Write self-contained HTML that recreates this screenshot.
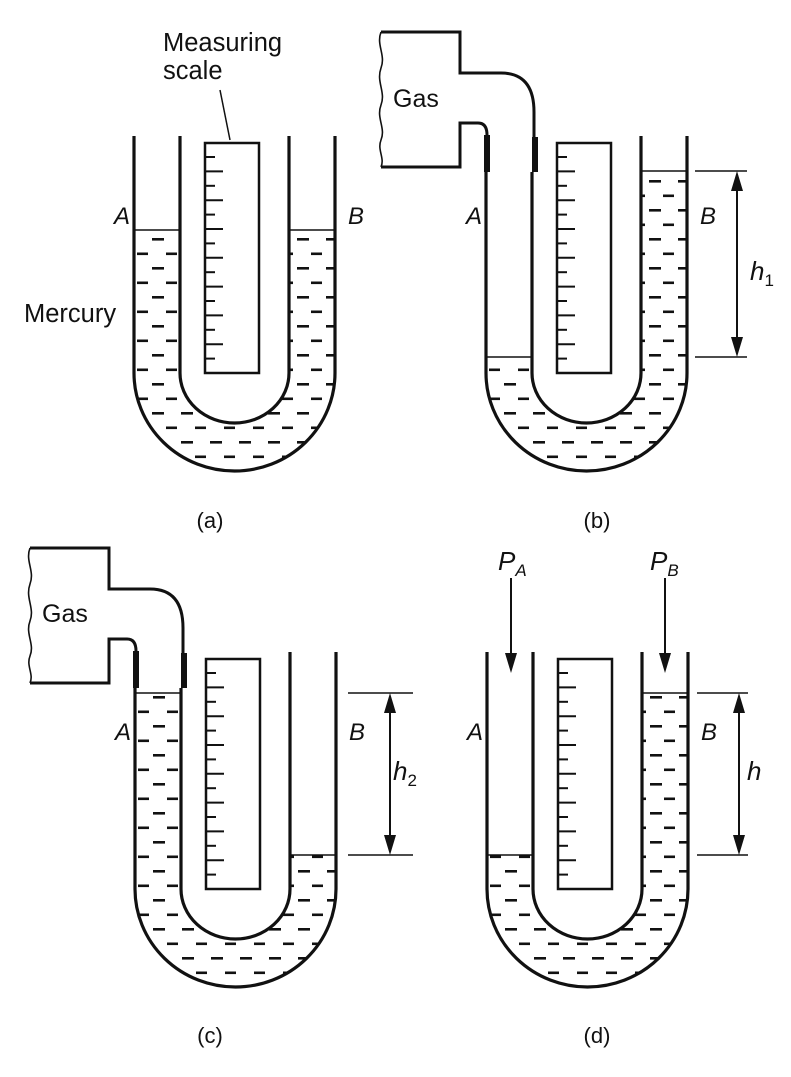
<!DOCTYPE html>
<html><head><meta charset="utf-8"><style>
html,body{margin:0;padding:0;background:#fff}
svg{display:block}
text{font-family:"Liberation Sans",sans-serif;fill:#111}
</style></head><body>
<svg id="fig" width="791" height="1077" viewBox="0 0 791 1077" xmlns="http://www.w3.org/2000/svg">
<defs>
<pattern id="merc" patternUnits="userSpaceOnUse" width="29" height="29" x="137" y="238">
<rect x="15" y="0" width="12" height="2.6" fill="#111"/>
<rect x="0" y="14.5" width="11" height="2.6" fill="#111"/>
</pattern>
</defs>
<g id="root"></g>
<text x="163" y="51" font-size="25.5">Measuring</text>
<text x="163" y="79" font-size="25.5">scale</text>
<line x1="220" y1="90" x2="230" y2="140" stroke="#111" stroke-width="1.5"/>
<text x="24" y="322" font-size="25.5">Mercury</text>
<text x="210" y="528" font-size="22" text-anchor="middle">(a)</text>
<text x="597" y="528" font-size="22" text-anchor="middle">(b)</text>
<text x="210" y="1043" font-size="22" text-anchor="middle">(c)</text>
<text x="597" y="1043" font-size="22" text-anchor="middle">(d)</text>
<text x="393" y="107" font-size="25">Gas</text>
<text x="42" y="622" font-size="25">Gas</text>
<text x="750" y="280" font-size="26" font-style="italic">h<tspan font-style="normal" font-size="17" dy="6">1</tspan></text>
<text x="393" y="780" font-size="26" font-style="italic">h<tspan font-style="normal" font-size="17" dy="6">2</tspan></text>
<text x="747" y="780" font-size="26" font-style="italic">h</text>
<text x="498" y="570" font-size="26" font-style="italic">P<tspan font-size="17" dy="6">A</tspan></text>
<text x="650" y="570" font-size="26" font-style="italic">P<tspan font-size="17" dy="6">B</tspan></text>
</svg>
<script>
// panel data: offsets and mercury levels (relative to panel a coordinates)
const panelNames = ['a','b','c','d'];
const offX = [0, 352, 1, 353];
const offY = [0, 0, 516, 516];
const levelLeft = [230, 357, 177, 339];
const levelRight = [230, 171, 339, 177];
const hasGas = [false, true, true, false];

const NS = 'http://www.w3.org/2000/svg';
const root = document.getElementById('root');
function mk(tag, attrs, parent) {
  const e = document.createElementNS(NS, tag);
  for (const k in attrs) e.setAttribute(k, attrs[k]);
  (parent || root).appendChild(e);
  return e;
}
const OL=134, IL=180, IR=289, OR=335, TOP=136, END=373;
const ORX=100.5, ORY=98, IRX=54.5, IRY=50;

panelNames.forEach((p, i) => {
  const g = mk('g', {transform: `translate(${offX[i]},${offY[i]})`});
  
  
  const L = levelLeft[i], R = levelRight[i];
  const d = `M${OL},${L} L${OL},${END} A${ORX},${ORY} 0 0 0 ${OR},${END} L${OR},${R} L${IR},${R} L${IR},${END} A${IRX},${IRY} 0 0 1 ${IL},${END} L${IL},${L} Z`;
  const merc = mk('path', {d: d, fill: 'url(#merc)'}, g);
  
  
  const lv1 = mk('line', {x1: OL, x2: IL, y1: L, y2: L, stroke: '#111', 'stroke-width': 1.6}, g);
  
  
  const lv2 = mk('line', {x1: IR, x2: OR, y1: R, y2: R, stroke: '#111', 'stroke-width': 1.6}, g);
  
  
  const t = hasGas[i] ? 172 : TOP;
  const outer = mk('path', {d: `M${OL},${t} L${OL},${END} A${ORX},${ORY} 0 0 0 ${OR},${END} L${OR},${TOP}`, fill: 'none', stroke: '#111', 'stroke-width': 3.2}, g);
  
  
  const inner = mk('path', {d: `M${IL},${t} L${IL},${END} A${IRX},${IRY} 0 0 0 ${IR},${END} L${IR},${TOP}`, fill: 'none', stroke: '#111', 'stroke-width': 3.2}, g);
  
  
  const sc = mk('rect', {x: 205, y: 143, width: 54, height: 230, fill: '#fff', stroke: '#111', 'stroke-width': 2.5}, g);
  
  
  for (let k = 0; k < 15; k++) {
    const y = 157 + k * 14.4;
    const tk = mk('line', {x1: 205, x2: 205 + (k % 2 ? 18 : 10), y1: y, y2: y, stroke: '#111', 'stroke-width': 2}, g);
    
    
  }
  const a = mk('text', {x: 114, y: 224, 'font-size': 24, 'font-style': 'italic'}, g);
  a.textContent = 'A';
  
  
  const b = mk('text', {x: 348, y: 224, 'font-size': 24, 'font-style': 'italic'}, g);
  b.textContent = 'B';
  
  
  if (hasGas[i]) {
    const gd = 'M29,32 L108,32 L108,73 L149,73 Q182,73 182,112 L182,172 M29,167 L108,167 L108,123 L126,123 Q135,123 135,135 L135,172';
    const gp = mk('path', {d: gd, fill: 'none', stroke: '#111', 'stroke-width': 3}, g);
    
    
    const wv = mk('path', {d: 'M29,32 C24,45 34,55 29,68 C24,82 34,92 29,105 C24,118 34,128 29,140 C25,150 33,158 29,167', fill: 'none', stroke: '#111', 'stroke-width': 1.6}, g);
    
    
    const c1 = mk('rect', {x: 132, y: 135, width: 6, height: 37, fill: '#111'}, g);
    
    
    const c2 = mk('rect', {x: 180, y: 137, width: 6, height: 35, fill: '#111'}, g);
    
    
  }
});

const dimX = [737, 390, 739];
const dimLineStart = [695, 348, 697];
const dimLineEnd = [747, 413, 748];
const dimTop = [171, 693, 693];
const dimBot = [357, 855, 855];
dimX.forEach((x, i) => {
  const g = mk('g', {});
  
  
  mk('line', {x1: dimLineStart[i], x2: dimLineEnd[i], y1: dimTop[i], y2: dimTop[i], stroke: '#111', 'stroke-width': 1.6}, g);
  mk('line', {x1: dimLineStart[i], x2: dimLineEnd[i], y1: dimBot[i], y2: dimBot[i], stroke: '#111', 'stroke-width': 1.6}, g);
  mk('line', {x1: x, x2: x, y1: dimTop[i] + 10, y2: dimBot[i] - 10, stroke: '#111', 'stroke-width': 2}, g);
  mk('path', {d: `M${x},${dimTop[i]} l-6,20 l12,0 Z M${x},${dimBot[i]} l-6,-20 l12,0 Z`, fill: '#111'}, g);
});
const pArrowX = [511, 665];
pArrowX.forEach((x) => {
  const g = mk('g', {});
  
  
  mk('line', {x1: x, x2: x, y1: 578, y2: 660, stroke: '#111', 'stroke-width': 2}, g);
  mk('path', {d: `M${x},673 l-6,-20 l12,0 Z`, fill: '#111'}, g);
});
</script>
</body></html>
